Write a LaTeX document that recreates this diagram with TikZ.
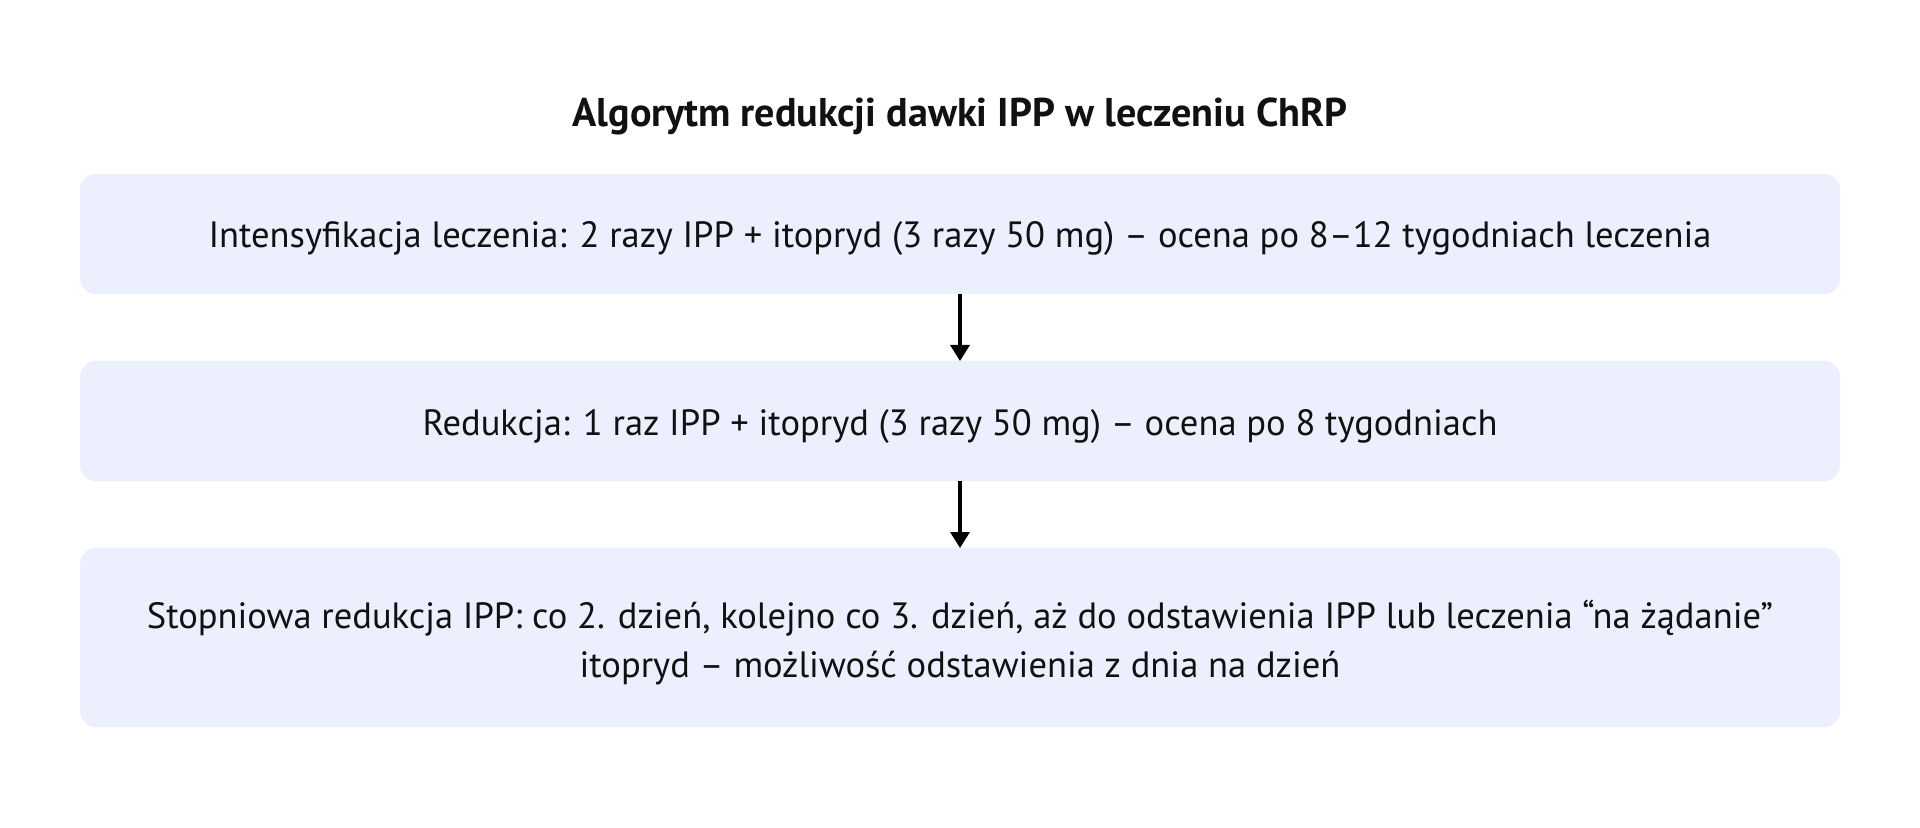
\documentclass[tikz,border=0pt]{standalone}
\usepackage{fontspec}
\setmainfont{PT Sans}
\usetikzlibrary{arrows.meta}
\definecolor{boxfill}{RGB}{236,239,253}
\definecolor{txt}{RGB}{17,17,17}
\newlength\reflen
\newlength\titlelen
\settowidth\reflen{\rmfamily\mdseries\upshape\fontsize{20pt}{24pt}\selectfont Intensyfikacja leczenia: 2 razy IPP + itopryd (3 razy 50 mg) – ocena po 8–12 tygodniach leczenia}
\settowidth\titlelen{\rmfamily\bfseries\upshape\fontsize{20pt}{24pt}\selectfont Algorytm redukcji dawki IPP w leczeniu ChRP}
\pgfmathsetmacro\bodyfs{20*751.5/\reflen}
\pgfmathsetmacro\titlefs{20*387.5/\titlelen}
\begin{document}
\begin{tikzpicture}[x=0.5pt,y=-0.5pt,
  stepbox/.style={draw=none,fill=boxfill,rounded corners=8pt,inner sep=0pt,outer sep=0pt},
  bodytext/.style={anchor=base,inner sep=0pt,text=txt,font=\fontsize{\bodyfs pt}{24pt}\selectfont},
  titletext/.style={anchor=base,inner sep=0pt,text=txt,font=\fontsize{\titlefs pt}{24pt}\selectfont\bfseries},
  flow/.style={line width=1.65pt,-{Triangle[width=9.5pt,length=8pt]}}]
\useasboundingbox[fill=white] (0,0) rectangle (1920,828);
\node[titletext] (title) at (960,127) {Algorytm redukcji dawki IPP w leczeniu ChRP};
\node[stepbox,minimum width=880pt,minimum height=60pt] (b1) at (960,234) {};
\node[stepbox,minimum width=880pt,minimum height=60pt] (b2) at (960,421) {};
\node[stepbox,minimum width=880pt,minimum height=89.5pt] (b3) at (960,637.5) {};
\node[bodytext] (t1) at (960,248) {Intensyfikacja leczenia: 2 razy IPP + itopryd (3 razy 50 mg) – ocena po 8–12 tygodniach leczenia};
\node[bodytext] (t2) at (960,435) {Redukcja: 1 raz IPP + itopryd (3 razy 50 mg) – ocena po 8 tygodniach};
\node[bodytext] (t3a) at (960,628) {Stopniowa redukcja IPP: co 2. dzień, kolejno co 3. dzień, aż do odstawienia IPP lub leczenia “na żądanie”};
\node[bodytext] (t3b) at (960,677) {itopryd – możliwość odstawienia z dnia na dzień};
\draw[flow] (b1.south) -- (b2.north);
\draw[flow] (b2.south) -- (b3.north);
\end{tikzpicture}
\end{document}
